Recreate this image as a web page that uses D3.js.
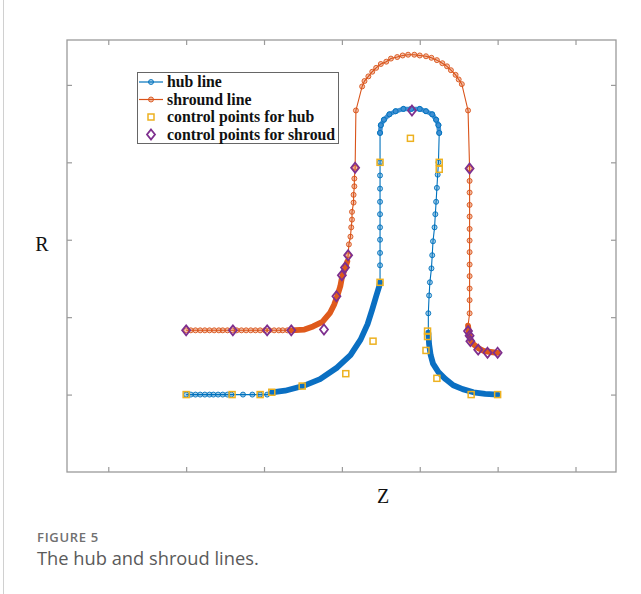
<!DOCTYPE html>
<html><head><meta charset="utf-8">
<script src="https://cdn.jsdelivr.net/npm/d3@7"></script>
<style>body{margin:0;background:#fff}</style>
</head><body>
<svg id="c" width="641" height="594" xmlns="http://www.w3.org/2000/svg"></svg>
<script>
// ---------- data (Z, R) ----------
const zTicks = [10, 20, 30, 40, 50, 60, 70];
const rTicks = [10, 20, 30, 40, 50];

// hub line, in drawing order
const hubStraightIn = [[20.0,10.0],[20.6,10.0],[21.2,10.0],[21.8,10.0],[22.4,10.0],[23.0,10.0],[23.5,10.0],[24.1,10.0],[24.7,10.0],[25.3,10.0],[25.8,10.0],[27.3,10.0],[28.5,10.0],[29.5,10.0],[30.4,10.0]];
const hubBendIn = [[31.0,10.3],[32.7,10.5],[35.0,11.1],[37.2,12.0],[39.4,13.5],[41.1,15.1],[42.4,17.1],[43.3,19.1],[43.9,21.0],[44.4,22.7],[44.8,24.0],[44.9,24.5]];
const hubRiseLeft = [[44.9,26.7],[44.9,28.3],[44.9,30.0],[44.9,31.6],[44.9,33.3],[44.9,34.9],[44.9,36.6],[44.9,38.3],[44.9,40.0]];
const hubTopArc = [[44.9,43.8],[45.0,44.8],[45.4,45.5],[46.1,46.2],[46.9,46.6],[47.9,46.9],[48.9,46.9],[50.0,46.9],[50.8,46.6],[51.6,46.2],[52.1,45.5],[52.4,44.8],[52.5,43.8]];
const hubFallRight = [[52.4,40.0],[52.3,38.4],[52.2,36.7],[52.1,34.9],[52.0,33.3],[51.9,31.6],[51.7,29.8],[51.6,28.0],[51.5,26.3],[51.3,24.5],[51.2,22.8],[51.1,20.5]];
const hubBendOut = [[51.1,18.0],[51.2,16.5],[51.4,15.1],[51.7,14.0],[52.4,12.9],[53.3,12.0],[54.3,11.2],[55.5,10.7],[56.9,10.3],[58.4,10.1],[60.0,10.0]];

// shroud line, in drawing order
const shroudStraightIn = [[20.0,18.3],[20.6,18.3],[21.2,18.3],[21.8,18.3],[22.4,18.3],[23.0,18.3],[23.6,18.3],[24.2,18.3],[24.7,18.3],[25.3,18.3],[25.9,18.3],[26.5,18.3],[27.1,18.3],[27.7,18.3],[28.3,18.3],[28.9,18.3],[29.5,18.3],[30.1,18.3],[30.7,18.3],[31.3,18.3],[31.9,18.3],[32.4,18.3],[33.0,18.3]];
const shroudBendIn = [[33.5,18.3],[35.2,18.4],[36.3,18.8],[37.5,19.4],[38.5,20.6],[39.0,21.6],[39.4,22.7],[39.8,24.0],[40.0,25.1],[40.4,26.3],[40.7,27.2]];
const shroudRiseLeft = [[40.8,28.0],[40.9,29.4],[41.1,30.4],[41.2,31.6],[41.3,32.6],[41.3,33.6],[41.5,34.8],[41.5,35.8],[41.6,36.9],[41.6,37.9],[41.7,39.3],[41.8,46.7]];
const shroudTopArc = [[42.6,49.8],[42.9,50.5],[43.4,51.1],[43.9,51.7],[44.4,52.2],[45.0,52.7],[45.7,53.0],[46.3,53.4],[47.1,53.6],[47.8,53.8],[48.5,53.9],[49.3,53.9],[50.0,53.8],[50.8,53.7],[51.5,53.5],[52.2,53.2],[52.9,52.8],[53.5,52.4],[54.0,51.9],[54.6,51.3],[55.0,50.7],[55.4,50.1]];
const shroudFallRight = [[56.2,46.7],[56.4,39.2],[56.4,37.6],[56.4,36.1],[56.4,34.5],[56.4,33.0],[56.4,31.4],[56.4,29.9],[56.4,28.4],[56.4,26.8],[56.4,25.3],[56.4,23.7],[56.4,22.2],[56.4,20.5]];
const shroudBendOut = [[56.2,18.9],[56.3,18.0],[56.5,17.1],[56.9,16.5],[57.5,16.0],[58.3,15.6],[59.1,15.5],[60.0,15.4]];

const hubControl = [[20.0,10.0],[25.9,10.0],[29.5,10.0],[31.0,10.3],[34.9,11.1],[40.5,12.7],[44.0,16.9],[44.9,24.5],[44.9,40.0],[48.8,43.1],[52.5,40.0],[52.5,39.1],[51.0,18.2],[51.0,17.5],[50.8,15.7],[52.2,12.1],[56.6,10.0],[60.0,10.0]];
const shroudControl = [[20.0,18.3],[26.0,18.3],[30.4,18.3],[33.5,18.3],[37.7,18.4],[39.3,22.7],[40.0,25.4],[40.4,26.4],[40.8,28.0],[41.7,39.3],[49.0,46.7],[56.4,39.2],[56.2,18.2],[56.4,17.6],[56.5,16.9],[57.5,15.8],[58.7,15.4],[60.0,15.4]];

const legendLabels = ["hub line", "shround line", "control points for hub", "control points for shroud"];
const axisLabels = {z: "Z", r: "R"};
const captionTitle = "FIGURE 5";
const captionText = "The hub and shroud lines.";

// ---------- drawing ----------
const C = {hub: "#0072BD", shroud: "#D95319", hubCP: "#EDB120", shroudCP: "#7E2F8E", axis: "#9a9a9a"};
const svg = d3.select("#c");
const L = 67, R = 616, T = 40, B = 472;
const x = d3.scaleLinear().domain([4.7, 75.2]).range([L, R]);
const y = d3.scaleLinear().domain([0, 55.8]).range([B, T]);

// page border
svg.append("line").attr("x1", 3.5).attr("x2", 3.5).attr("y1", 0).attr("y2", 594)
  .attr("stroke", "#d0d0d0").attr("stroke-width", 1);

// axes box
svg.append("rect").attr("x", L).attr("y", T).attr("width", R - L).attr("height", B - T)
  .attr("fill", "#fff").attr("stroke", C.axis).attr("stroke-width", 1.3);
function styleAxis(g) {
  g.select(".domain").remove();
  g.selectAll(".tick line").attr("stroke", C.axis).attr("stroke-width", 1.2);
  g.selectAll(".tick text").remove();
}
svg.append("g").attr("transform", `translate(0,${B})`).call(d3.axisBottom(x).tickValues(zTicks).tickSize(-5)).call(styleAxis);
svg.append("g").attr("transform", `translate(0,${T})`).call(d3.axisTop(x).tickValues(zTicks).tickSize(-5)).call(styleAxis);
svg.append("g").attr("transform", `translate(${L},0)`).call(d3.axisLeft(y).tickValues(rTicks).tickSize(-5)).call(styleAxis);
svg.append("g").attr("transform", `translate(${R},0)`).call(d3.axisRight(y).tickValues(rTicks).tickSize(-5)).call(styleAxis);

const line = d3.line().x(d => x(d[0])).y(d => y(d[1]));
const plot = svg.append("g");

function drawSeries(color, segs, markerSegs, bandSegs, bandColor) {
  const all = [].concat(...segs);
  plot.append("path").attr("d", line(all)).attr("fill", "none")
    .attr("stroke", color).attr("stroke-width", 1.1);
  markerSegs.forEach(s => {
    plot.append("g").selectAll("circle").data(s).join("circle")
      .attr("cx", d => x(d[0])).attr("cy", d => y(d[1])).attr("r", 2.5)
      .attr("fill", color).attr("fill-opacity", 0.35)
      .attr("stroke", color).attr("stroke-width", 0.9);
  });
  bandSegs.forEach(s => {
    plot.append("path").attr("d", line(s)).attr("fill", "none")
      .attr("stroke", bandColor).attr("stroke-width", 5.8)
      .attr("stroke-linecap", "round").attr("stroke-linejoin", "round");
  });
}
drawSeries(C.hub,
  [hubStraightIn, hubBendIn, hubRiseLeft, hubTopArc, hubFallRight, hubBendOut],
  [hubStraightIn, hubRiseLeft, hubFallRight, hubTopArc],
  [hubBendIn, hubBendOut], "#0a6fc2");
// hub top arc: dense markers
plot.append("path").attr("d", line(hubTopArc)).attr("fill", "none")
  .attr("stroke", "#3f8fd2").attr("stroke-width", 4.5).attr("stroke-linecap", "round");
plot.append("g").selectAll("circle").data(hubTopArc).join("circle")
  .attr("cx", d => x(d[0])).attr("cy", d => y(d[1])).attr("r", 2.5)
  .attr("fill", "none").attr("stroke", C.hub).attr("stroke-width", 0.9);

drawSeries(C.shroud,
  [shroudStraightIn, shroudBendIn, shroudRiseLeft, shroudTopArc, shroudFallRight, shroudBendOut],
  [shroudStraightIn, shroudRiseLeft, shroudTopArc, shroudFallRight],
  [shroudBendIn, shroudBendOut], "#df5a1c");

// control points
function square(g, cx, cy, s) {
  g.append("rect").attr("x", cx - s / 2).attr("y", cy - s / 2).attr("width", s).attr("height", s)
    .attr("fill", "none").attr("stroke", C.hubCP).attr("stroke-width", 1.5);
}
function diamond(g, cx, cy, w, h) {
  g.append("path").attr("d", `M${cx},${cy - h / 2}L${cx + w / 2},${cy}L${cx},${cy + h / 2}L${cx - w / 2},${cy}Z`)
    .attr("fill", "none").attr("stroke", C.shroudCP).attr("stroke-width", 1.8);
}
const cpG = plot.append("g");
hubControl.forEach(d => square(cpG, x(d[0]), y(d[1]), 6));
shroudControl.forEach(d => diamond(cpG, x(d[0]), y(d[1]), 8, 10));

// legend
const lg = svg.append("g");
lg.append("rect").attr("x", 137.5).attr("y", 72.5).attr("width", 201).attr("height", 71)
  .attr("fill", "#fff").attr("stroke", "#666").attr("stroke-width", 1);
const ly = [82, 99.5, 117, 134.5];
[C.hub, C.shroud].forEach((c, i) => {
  lg.append("line").attr("x1", 139).attr("x2", 163).attr("y1", ly[i]).attr("y2", ly[i])
    .attr("stroke", c).attr("stroke-width", 1.2);
  lg.append("circle").attr("cx", 151).attr("cy", ly[i]).attr("r", 2.5)
    .attr("fill", c).attr("fill-opacity", 0.35).attr("stroke", c).attr("stroke-width", 0.9);
});
square(lg, 151, ly[2], 6);
diamond(lg, 151, ly[3], 8, 10);
legendLabels.forEach((t, i) => {
  lg.append("text").attr("x", 167).attr("y", ly[i] + 5).text(t)
    .attr("font-family", "Liberation Serif, Times New Roman, serif").attr("font-weight", "bold")
    .attr("font-size", 15.8).attr("fill", "#111");
});

// axis labels
svg.append("text").attr("x", 42).attr("y", 251).attr("text-anchor", "middle").text(axisLabels.r)
  .attr("font-family", "Liberation Serif, serif").attr("font-size", 20).attr("fill", "#111");
svg.append("text").attr("x", 383).attr("y", 503).attr("text-anchor", "middle").text(axisLabels.z)
  .attr("font-family", "Liberation Serif, serif").attr("font-size", 20).attr("fill", "#111");

// caption
svg.append("text").attr("x", 37).attr("y", 542).text(captionTitle)
  .attr("font-family", "Open Sans, sans-serif").attr("font-weight", 600).attr("font-size", 13)
  .attr("letter-spacing", 0.7).attr("fill", "#707070");
svg.append("text").attr("x", 37).attr("y", 565).text(captionText)
  .attr("font-family", "Open Sans, sans-serif").attr("font-size", 18.3)
  .attr("fill", "#5a5a5a");
</script>
</body></html>
